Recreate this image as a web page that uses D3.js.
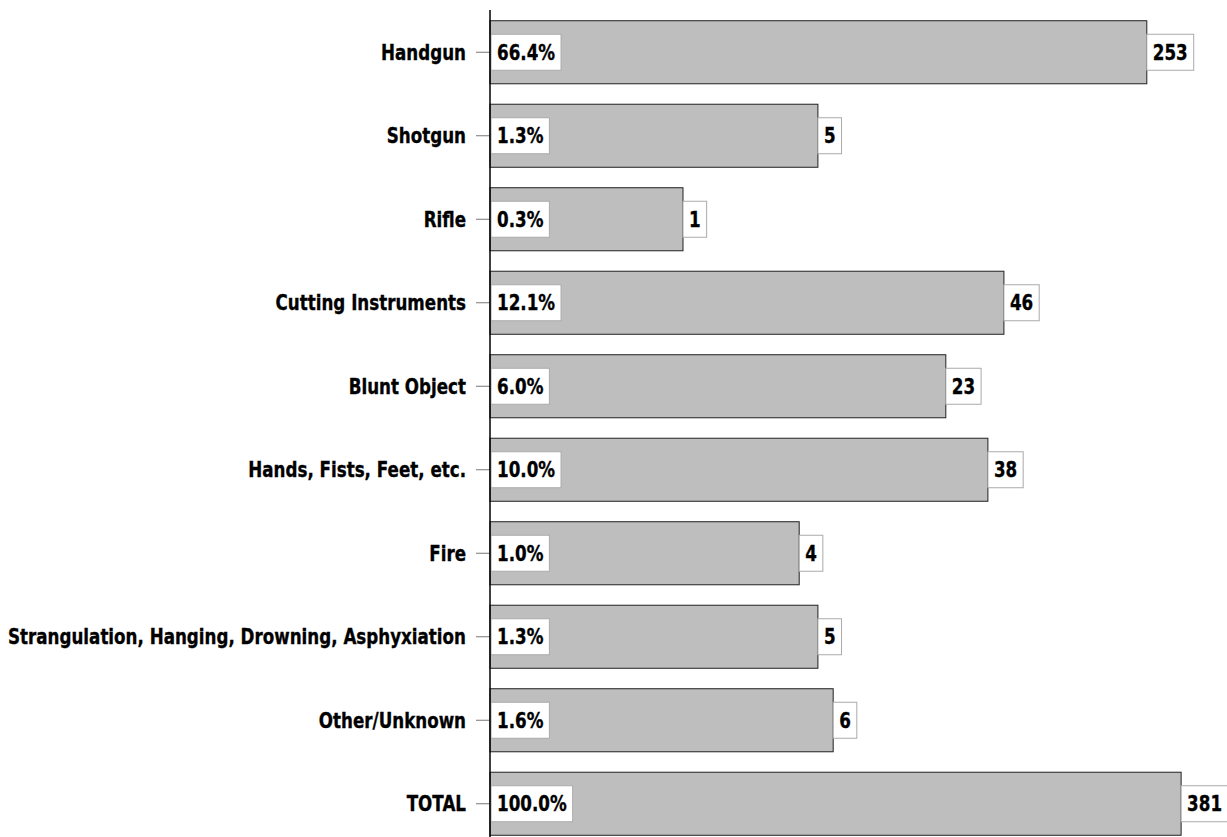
<!DOCTYPE html>
<html><head><meta charset="utf-8">
<script src="https://cdn.jsdelivr.net/npm/d3@7"></script>
<style>body{margin:0;background:#fff;} text{font-family:"DejaVu Sans",sans-serif;font-weight:bold;}</style>
</head><body>
<svg id="c" width="1227" height="837"></svg>
<script>
const categories = ["Handgun","Shotgun","Rifle","Cutting Instruments","Blunt Object","Hands, Fists, Feet, etc.","Fire","Strangulation, Hanging, Drowning, Asphyxiation","Other/Unknown","TOTAL"];
const values = [253,5,1,46,23,38,4,5,6,381];
const percents = ["66.4%","1.3%","0.3%","12.1%","6.0%","10.0%","1.0%","1.3%","1.6%","100.0%"];

const svg = d3.select("#c");
const x = d3.scaleLog().domain([0.1,1000]).range([490,1262]);
const y = d3.scaleBand().domain(categories).range([10.5,845.5]).paddingInner(0.245).paddingOuter(0.1225);

const fs = 20.5;
const probe = svg.append("text").attr("font-size",fs).text(categories[7]);
const pw = probe.node().getComputedTextLength();
probe.remove();
const k = Math.min(1, 458/pw);   // horizontal condensing factor
function condense(sel){
  sel.each(function(){
    const w = this.getComputedTextLength();
    d3.select(this).attr("textLength", w*k).attr("lengthAdjust","spacingAndGlyphs")
      .attr("stroke","#000").attr("stroke-width",0.35);
  });
}

const g = svg.append("g");
const rows = g.selectAll("g.row").data(categories).join("g").attr("class","row");

rows.append("rect")
  .attr("x", x(0.1)).attr("y", d=>y(d))
  .attr("width", (d,i)=>x(values[i])-x(0.1)).attr("height", y.bandwidth())
  .attr("fill","#bebebe").attr("stroke","#222").attr("stroke-width",1);

rows.each(function(d,i){
  const r = d3.select(this);
  const cy = y(d)+y.bandwidth()/2;
  const b1 = r.append("rect"), t = r.append("text");
  t.attr("x", x(0.1)+7).attr("y", cy).attr("dy","0.37em")
    .attr("font-size",fs).attr("fill","#000").text(percents[i]);
  const w = t.node().getComputedTextLength()*k;
  condense(t);
  b1.attr("x", x(0.1)+1).attr("y", cy-18).attr("width", w+12).attr("height",36)
    .attr("fill","#fff").attr("stroke","#aaa").attr("stroke-width",1);
  const xe = x(values[i]);
  const b2 = r.append("rect"), t2 = r.append("text");
  t2.attr("x", xe+6).attr("y", cy).attr("dy","0.37em")
    .attr("font-size",fs).attr("fill","#000").text(values[i]);
  const w2 = t2.node().getComputedTextLength()*k;
  condense(t2);
  b2.attr("x", xe).attr("y", cy-18).attr("width", w2+12).attr("height",36)
    .attr("fill","#fff").attr("stroke","#aaa").attr("stroke-width",1);
});

const axis = d3.axisLeft(y).tickSize(14).tickPadding(10);
const ag = svg.append("g").attr("transform","translate(490,0)").call(axis);
ag.select(".domain").remove();
ag.selectAll(".tick line").attr("stroke","#777");
ag.selectAll(".tick text").attr("font-size",fs).attr("fill","#000").attr("dy","0.37em")
  .style("font-family",'"DejaVu Sans",sans-serif').style("font-weight","bold");
condense(ag.selectAll(".tick text"));
svg.append("line").attr("x1",490).attr("x2",490).attr("y1",10).attr("y2",837).attr("stroke","#000").attr("stroke-width",1.5);
</script>
</body></html>
